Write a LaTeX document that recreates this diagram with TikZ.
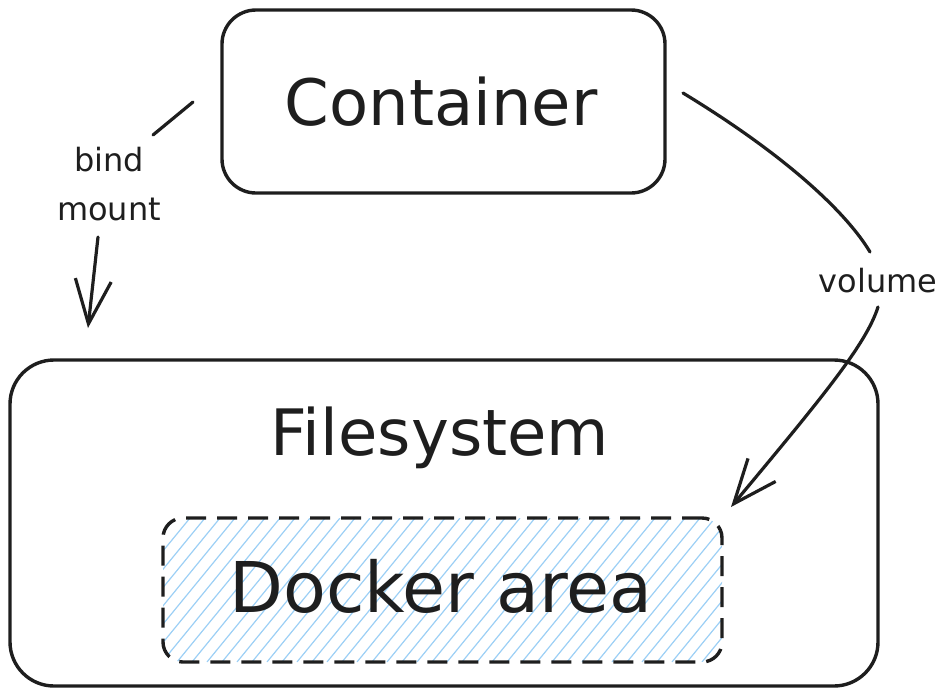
\documentclass[tikz,border=0pt]{standalone}
\usepackage{fontspec}
\setmainfont{DejaVu Sans}
\usetikzlibrary{arrows.meta}
\definecolor{ink}{HTML}{1E1E1E}
\definecolor{hatchblue}{HTML}{9CCFF5}
\tikzset{
  stroke/.style={draw=ink, line width=3.4pt},
  panel/.style={stroke, rounded corners=34pt, inner sep=0pt},
  bigtext/.style={text=ink, font=\fontsize{64}{70}\selectfont, inner sep=0pt, anchor=base},
  smalltext/.style={text=ink, font=\fontsize{32}{49}\selectfont, inner sep=0pt, align=center},
  wire/.style={draw=ink, line width=3.2pt, line cap=round},
  barb/.style={-{Straight Barb[length=44pt,width=36pt,line width=3.2pt]}},
  hatch/.style={draw=hatchblue, line width=1.2pt}
}
\begin{document}
\begin{tikzpicture}[x=1pt,y=-1pt]
  \useasboundingbox (0,0) rectangle (945,691);

  % outer boxes
  \node[panel, minimum width=443pt, minimum height=183pt] (container) at (443.5,101.5) {};
  \node[panel, rounded corners=44pt, minimum width=868pt, minimum height=326pt] (filesystem) at (444,523) {};

  % hatched docker area
  \begin{scope}
    \clip[rounded corners=20pt] (163,518) rectangle (722,662);
    \foreach \i in {160,175,...,880} {
      \draw[hatch] (\i,518) -- ++(-118,144);
    }
  \end{scope}
  \node[draw=ink, line width=3.4pt, dash pattern=on 20pt off 11pt, rounded corners=20pt,
        minimum width=559pt, minimum height=144pt, inner sep=0pt] (docker) at (442.5,590) {};

  % labels
  \node[bigtext] (containerlbl) at (441,125) {Container};
  \node[bigtext] (fslbl) at (440,455) {Filesystem};
  \node[bigtext, font=\fontsize{70}{76}\selectfont] (dockerlbl) at (441,612) {Docker area};

  % bind mount connector
  \node[smalltext] (bindlbl) at (109,184) {bind\\mount};
  \coordinate (bindA) at (193,102);
  \coordinate (bindB) at (153,135);
  \coordinate (bindC) at (98,237);
  \coordinate (bindD) at (88,328);
  \draw[wire] (bindA) -- (bindB);
  \draw[wire, barb] (bindC) -- (bindD);

  % volume connector
  \node[smalltext] (vollbl) at (878,281) {volume};
  \coordinate (volA) at (683,93);
  \coordinate (volB) at (870,252);
  \coordinate (volC) at (878,307);
  \coordinate (volD) at (731,507);
  \draw[wire] (volA) .. controls (790,158) and (848,215) .. (volB);
  \draw[wire, barb] (volC) .. controls (866,345) and (820,400) .. (volD);
\end{tikzpicture}
\end{document}
